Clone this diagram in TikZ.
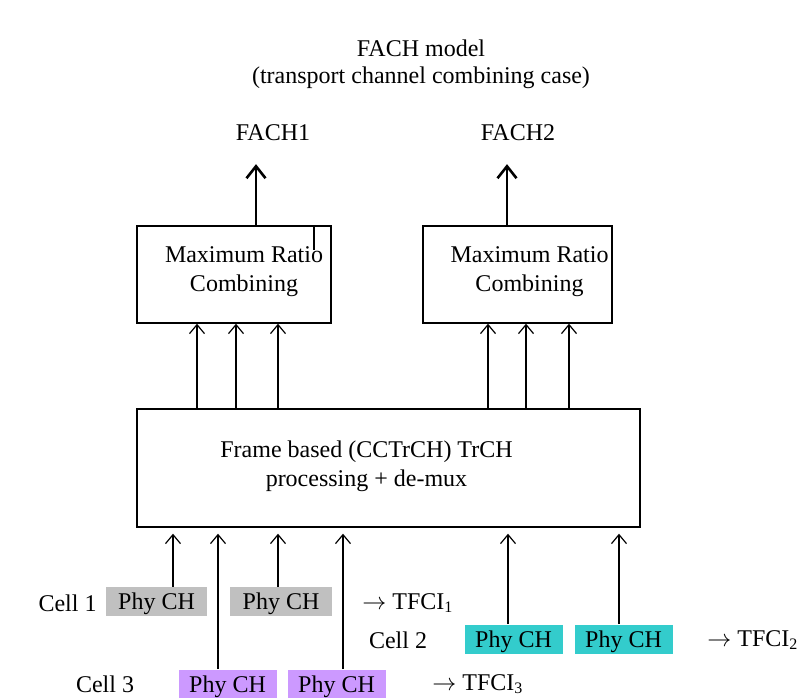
\documentclass[tikz,border=0pt]{standalone}
\usepackage{fontspec}
\setmainfont{Liberation Serif}
\usetikzlibrary{positioning,arrows.meta}
\tikzset{>={Straight Barb[length=4.5pt, width=7.5pt]}}
\definecolor{phygray}{RGB}{192,192,192}
\definecolor{phyteal}{RGB}{51,204,204}
\definecolor{phyviolet}{RGB}{204,153,255}

\begin{document}
\begin{tikzpicture}[x=0.5pt, y=-0.5pt, font=\fontsize{12}{14.5}\selectfont,
    box/.style={draw, line width=0.7pt, inner sep=0pt},
    phy/.style={inner sep=0pt, text depth=0pt, minimum width=49pt, minimum height=14.5pt},
    up/.style={->, line width=0.6pt},
    thickup/.style={-{Straight Barb[length=6pt, width=9.5pt]}, line width=1.3pt}]
      \useasboundingbox (0,0) rectangle (797,697);
      \node (t0) at (421,48) {FACH model};
      \node (t1) at (421,78) {(transport channel combining case)};
      \node (f1) at (273,133) {FACH1};
      \node (f2) at (518,133) {FACH2};
      \node[box, minimum width=97pt, minimum height=48.5pt] (m1) at (234,274.5) {};
      \node[box, minimum width=94.5pt, minimum height=48.5pt] (m2) at (517.5,274.5) {};
      \node[align=center] (c1) at ([xshift=5pt, yshift=1.5pt]m1.center) {Maximum Ratio\\Combining};
      \node[align=center] (c2) at ([xshift=6pt, yshift=1.5pt]m2.center) {Maximum Ratio\\Combining};
      \node[box, minimum width=251.5pt, minimum height=59pt] (n0) at (388.5,468) {};
      \node[align=center] (p0) at ([xshift=-11pt, yshift=1pt]n0.center) {Frame based (CCTrCH) TrCH\\processing + de-mux};
      \node[phy, fill=phygray, minimum width=50.5pt] (g1) at (156.5,601.5) {Phy CH};
      \node[phy, fill=phygray, minimum width=51pt, right of=g1, node distance=62.25pt] (g2) {Phy CH};
      \node[phy, fill=phyteal] (b1) at (513.5,639) {Phy CH};
      \node[phy, fill=phyteal, right of=b1, node distance=55pt] (b2) {Phy CH};
      \node[phy, fill=phyviolet] (v1) at (227.5,684) {Phy CH};
      \node[phy, fill=phyviolet, right of=v1, node distance=54.5pt] (v2) {Phy CH};
      \node (l1) at (67.5,603) {Cell 1};
      \node (l2) at (398,640) {Cell 2};
      \node (l3) at (105,684) {Cell 3};
      \node[anchor=west, inner sep=0pt] (r1) at (362,603) {$\rightarrow$ TFCI\textsubscript{1}};
      \node[anchor=west, inner sep=0pt] (r2) at (707,640) {$\rightarrow$ TFCI\textsubscript{2}};
      \node[anchor=west, inner sep=0pt] (r3) at (432,684) {$\rightarrow$ TFCI\textsubscript{3}};
      \draw[thickup, shorten >=8pt] (256,0 |- m1.north) to (256,0 |- f1.south);
      \draw[thickup, shorten >=8pt] (507,0 |- m2.north) to (507,0 |- f2.south);
      \draw[line width=0.6pt] (314,0 |- m1.north) to (314,250);
      \foreach \x in {197,236,278} \draw[up] (\x,0 |- n0.north) to (\x,0 |- m1.south);
      \foreach \x in {488,526,569} \draw[up] (\x,0 |- n0.north) to (\x,0 |- m2.south);
      \draw[up, shorten >=3pt] (173,0 |- g1.north) to (173,0 |- n0.south);
      \draw[up, shorten >=3pt] (278,0 |- g2.north) to (278,0 |- n0.south);
      \draw[up, shorten >=3pt] (508,0 |- b1.north) to (508,0 |- n0.south);
      \draw[up, shorten >=3pt] (619,0 |- b2.north) to (619,0 |- n0.south);
      \draw[up, shorten >=3pt] (218,0 |- v1.north) to (218,0 |- n0.south);
      \draw[up, shorten >=3pt] (343,0 |- v2.north) to (343,0 |- n0.south);
    \end{tikzpicture}
\end{document}
